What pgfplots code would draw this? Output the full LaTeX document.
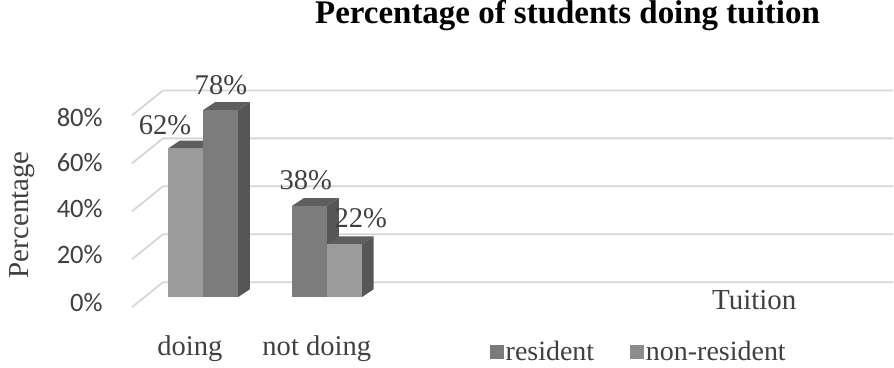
\documentclass[border=0pt]{standalone}
\usepackage{fontspec}
\setmainfont{Liberation Serif}
\newfontfamily\carlito{Carlito}
\usepackage{pgfplots}
\pgfplotsset{compat=1.18}
\definecolor{lightbar}{HTML}{9B9B9B}
\definecolor{darkbar}{HTML}{7C7C7C}
\definecolor{topc}{HTML}{5E5E5E}
\definecolor{sidec}{HTML}{565656}
\definecolor{gridc}{HTML}{D6D6D6}
\definecolor{txt}{HTML}{404040}
\definecolor{legres}{HTML}{7A7A7A}
\definecolor{legnon}{HTML}{8C8C8C}
\pgfplotsset{
  frontbar/.style={ybar, bar shift=0pt, bar width=17.5pt, draw=none, forget plot,
    nodes near coords={\pgfmathprintnumber{\pgfplotspointmeta}\%},
    every node near coord/.append style={font=\fontsize{14.3}{17}\selectfont, text=txt, anchor=center}},
  face/.style={fill=#1, draw=none, forget plot},
  gridl/.style={gridc, line width=0.9pt, forget plot},
}
\begin{document}
\begin{tikzpicture}
\begin{axis}[
  x=0.5pt, y=1.2pt,
  xmin=0, xmax=894, ymin=-29.17, ymax=122.92,
  clip=false,
  axis line style={draw=none},
  major tick length=0pt,
  /pgf/number format/assume math mode=true,
  xtick={190,317}, xticklabels={doing,not doing},
  ytick={-2.1,17.9,37.1,56.2,75}, yticklabels={0\%,20\%,40\%,60\%,80\%},
  yticklabel style={anchor=east, xshift=51.5pt, inner sep=0pt,
    font=\carlito\fontsize{13.3}{16}\selectfont, text=txt},
  xticklabel style={anchor=base, yshift=6pt, inner sep=0pt,
    font=\fontsize{14.3}{17}\selectfont, text=txt},
  legend columns=2,
  legend style={draw=none, fill=none, at={(0.548,0.041)}, anchor=west,
    inner sep=0pt, font=\fontsize{14}{17}\selectfont, text=txt,
    /tikz/every even column/.append style={column sep=17pt},
    nodes={inner sep=1pt}},
  legend image code/.code={\fill[#1] (0pt,-3.25pt) rectangle (6.5pt,3.25pt);},
]
% back wall gridlines with left slant
\addplot[gridl] coordinates {(132,-4.17) (163,6.25) (894,6.25)};
\addplot[gridl] coordinates {(132,15.83) (163,26.25) (894,26.25)};
\addplot[gridl] coordinates {(132,35.83) (163,46.25) (894,46.25)};
\addplot[gridl] coordinates {(132,55.83) (163,66.25) (894,66.25)};
\addplot[gridl] coordinates {(132,75.83) (163,86.25) (894,86.25)};

% bar 1: doing, resident 62
\addplot[face=sidec] coordinates {(203,0) (215,3.33) (215,65.33) (203,62)} -- cycle;
\addplot[face=topc] coordinates {(168,62) (180,65.33) (215,65.33) (203,62)} -- cycle;
\addplot[frontbar, fill=lightbar,
  every node near coord/.append style={xshift=-10.25pt, yshift=11.5pt}] coordinates {(185.5,62)};

% bar 2: doing, non-resident 78
\addplot[face=sidec] coordinates {(238,0) (250,3.33) (250,81.33) (238,78)} -- cycle;
\addplot[face=topc] coordinates {(203,78) (215,81.33) (250,81.33) (238,78)} -- cycle;
\addplot[frontbar, fill=darkbar,
  every node near coord/.append style={xshift=0.25pt, yshift=12.5pt}] coordinates {(220.5,78)};

% bar 3: not doing, resident 38
\addplot[face=sidec] coordinates {(327,0) (339,3.33) (339,41.33) (327,38)} -- cycle;
\addplot[face=topc] coordinates {(292,38) (304,41.33) (339,41.33) (327,38)} -- cycle;
\addplot[frontbar, fill=darkbar,
  every node near coord/.append style={xshift=-1.75pt, yshift=13pt}] coordinates {(309.5,38)};

% bar 4: not doing, non-resident 22
\addplot[face=sidec] coordinates {(362,0) (374,3.33) (374,25.33) (362,22)} -- cycle;
\addplot[face=topc] coordinates {(327,22) (339,25.33) (374,25.33) (362,22)} -- cycle;
\addplot[frontbar, fill=lightbar,
  every node near coord/.append style={xshift=8.25pt, yshift=13pt}] coordinates {(344.5,22)};

\addlegendimage{legres}
\addlegendentry{resident}
\addlegendimage{legnon}
\addlegendentry{non-resident}

\node[anchor=base, font=\bfseries\fontsize{16.5}{20}\selectfont, inner sep=0pt] at (axis cs:568,114.3) {Percentage of students doing tuition};
\node[rotate=90, font=\fontsize{14.5}{17}\selectfont, text=txt, inner sep=0pt] at (axis cs:22,34.4) {Percentage};
\node[anchor=base, font=\fontsize{14.5}{17}\selectfont, text=txt, inner sep=0pt] at (axis cs:755,-5) {Tuition};
\end{axis}
\end{tikzpicture}
\end{document}
